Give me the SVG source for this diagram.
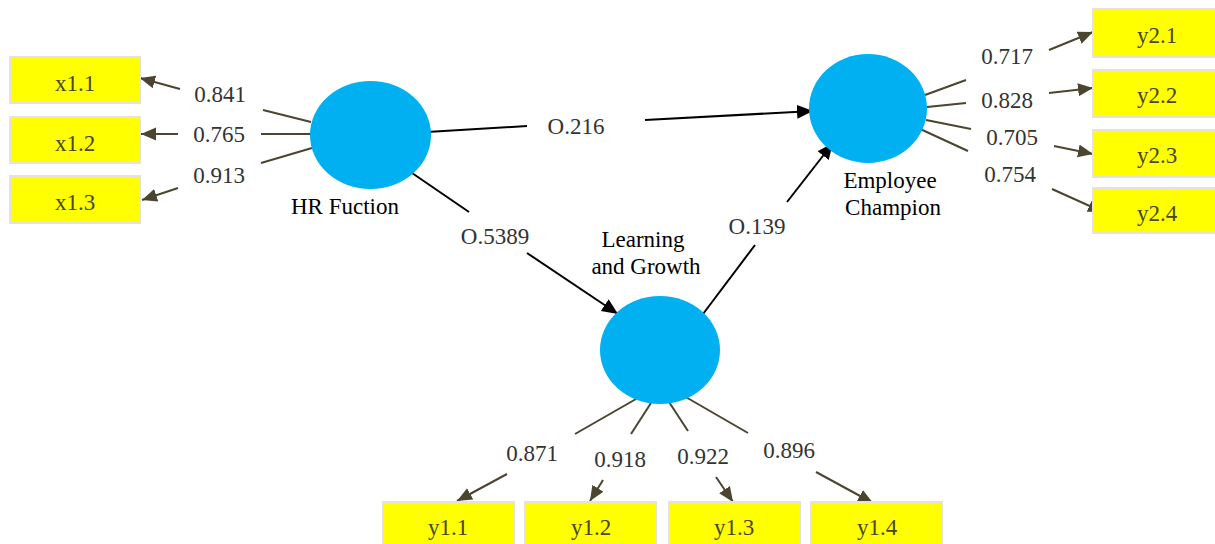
<svg xmlns="http://www.w3.org/2000/svg" width="1215" height="544" viewBox="0 0 1215 544">
<style>
  .lv { fill: #00b0f0; }
  .box { fill: #ffff00; stroke: #e6e2da; stroke-width: 2; }
  text { font-family: "Liberation Serif", "Times New Roman", Tinos, "DejaVu Serif", serif; font-size: 23px; text-anchor: middle; }
  .boxt { fill: #4a4626; }
  .num { fill: #333333; }
  .lbl { fill: #000000; }
  .ld { stroke: #4a4430; stroke-width: 2; fill: none; }
  .st { stroke: #000000; stroke-width: 2; fill: none; }
</style>
<defs>
  <marker id="ahL" markerUnits="userSpaceOnUse" markerWidth="16" markerHeight="14" refX="15" refY="6.5" orient="auto">
    <path d="M0,0 L15,6.5 L0,13 z" fill="#4a4430"/>
  </marker>
  <marker id="ahS" markerUnits="userSpaceOnUse" markerWidth="17" markerHeight="15" refX="16" refY="7" orient="auto">
    <path d="M0,0 L16,7 L0,14 z" fill="#000000"/>
  </marker>
</defs>
<rect width="1215" height="544" fill="#ffffff"/>

<g id="connectors">
  <line class="st" x1="427" y1="132" x2="527" y2="126"/>
  <line class="st" x1="645" y1="120" x2="813" y2="111" marker-end="url(#ahS)"/>
  <text class="num" x="576" y="134">O.216</text>
  <line class="st" x1="412" y1="173" x2="469" y2="212"/>
  <line class="st" x1="527" y1="253" x2="618" y2="314" marker-end="url(#ahS)"/>
  <text class="num" x="495" y="244">O.5389</text>
  <line class="st" x1="703" y1="314" x2="755" y2="245"/>
  <line class="st" x1="787" y1="202" x2="833" y2="143" marker-end="url(#ahS)"/>
  <text class="num" x="757" y="234">O.139</text>

  <line class="ld" x1="311" y1="122" x2="263" y2="110"/>
  <line class="ld" x1="180" y1="89" x2="140" y2="78" marker-end="url(#ahL)"/>
  <text class="num" x="220" y="102">0.841</text>
  <line class="ld" x1="311" y1="134" x2="261" y2="134"/>
  <line class="ld" x1="178" y1="134" x2="141" y2="134" marker-end="url(#ahL)"/>
  <text class="num" x="219" y="142">0.765</text>
  <line class="ld" x1="312" y1="148" x2="261" y2="163"/>
  <line class="ld" x1="178" y1="188" x2="142" y2="200" marker-end="url(#ahL)"/>
  <text class="num" x="219" y="183">0.913</text>

  <line class="ld" x1="925" y1="95" x2="966" y2="80"/>
  <line class="ld" x1="1049" y1="50" x2="1093" y2="32" marker-end="url(#ahL)"/>
  <text class="num" x="1007" y="64">0.717</text>
  <line class="ld" x1="927" y1="107" x2="966" y2="103"/>
  <line class="ld" x1="1049" y1="93" x2="1093" y2="88" marker-end="url(#ahL)"/>
  <text class="num" x="1007" y="108">0.828</text>
  <line class="ld" x1="926" y1="120" x2="971" y2="129"/>
  <line class="ld" x1="1054" y1="146" x2="1093" y2="154" marker-end="url(#ahL)"/>
  <text class="num" x="1012" y="145">0.705</text>
  <line class="ld" x1="918" y1="128" x2="968" y2="151"/>
  <line class="ld" x1="1052" y1="189" x2="1103" y2="212" marker-end="url(#ahL)"/>
  <text class="num" x="1010" y="182">0.754</text>

  <line class="ld" x1="636" y1="399" x2="575" y2="434"/>
  <line class="ld" x1="507" y1="474" x2="457" y2="501" marker-end="url(#ahL)"/>
  <text class="num" x="532" y="461">0.871</text>
  <line class="ld" x1="651" y1="403" x2="631" y2="434"/>
  <line class="ld" x1="603" y1="480" x2="590" y2="501" marker-end="url(#ahL)"/>
  <text class="num" x="620" y="467">0.918</text>
  <line class="ld" x1="669" y1="402" x2="688" y2="431"/>
  <line class="ld" x1="716" y1="477" x2="733" y2="502" marker-end="url(#ahL)"/>
  <text class="num" x="703" y="464">0.922</text>
  <line class="ld" x1="684" y1="396" x2="748" y2="433"/>
  <line class="ld" x1="816" y1="472" x2="873" y2="503" marker-end="url(#ahL)"/>
  <text class="num" x="789" y="458">0.896</text>
</g>

<g id="hr-fuction">
  <ellipse class="lv" cx="370.5" cy="135" rx="60.5" ry="54"/>
  <text class="lbl" x="345" y="214">HR Fuction</text>
</g>
<g id="employee-champion">
  <ellipse class="lv" cx="868" cy="108.5" rx="59" ry="54.5"/>
  <text class="lbl" x="890" y="188">Employee</text>
  <text class="lbl" x="893" y="215">Champion</text>
</g>
<g id="learning-growth">
  <ellipse class="lv" cx="660" cy="350" rx="60" ry="54"/>
  <text class="lbl" x="643" y="247">Learning</text>
  <text class="lbl" x="646" y="274">and Growth</text>
</g>

<g id="x1.1"><rect class="box" x="10" y="57" width="130" height="46"/><text class="boxt" x="75" y="91">x1.1</text></g>
<g id="x1.2"><rect class="box" x="10" y="117" width="130" height="46"/><text class="boxt" x="75" y="151">x1.2</text></g>
<g id="x1.3"><rect class="box" x="10" y="176" width="130" height="47"/><text class="boxt" x="75" y="210">x1.3</text></g>

<g id="y2.1"><rect class="box" x="1093" y="9" width="128" height="48"/><text class="boxt" x="1157" y="43">y2.1</text></g>
<g id="y2.2"><rect class="box" x="1093" y="70" width="128" height="47"/><text class="boxt" x="1157" y="103">y2.2</text></g>
<g id="y2.3"><rect class="box" x="1093" y="130" width="128" height="47"/><text class="boxt" x="1157" y="163">y2.3</text></g>
<g id="y2.4"><rect class="box" x="1093" y="188" width="128" height="45"/><text class="boxt" x="1157" y="221">y2.4</text></g>

<g id="y1.1"><rect class="box" x="383" y="502" width="131" height="50"/><text class="boxt" x="448" y="535">y1.1</text></g>
<g id="y1.2"><rect class="box" x="525" y="502" width="131" height="50"/><text class="boxt" x="591" y="535">y1.2</text></g>
<g id="y1.3"><rect class="box" x="669" y="502" width="131" height="50"/><text class="boxt" x="734" y="535">y1.3</text></g>
<g id="y1.4"><rect class="box" x="811" y="502" width="131" height="50"/><text class="boxt" x="877" y="535">y1.4</text></g>
</svg>
